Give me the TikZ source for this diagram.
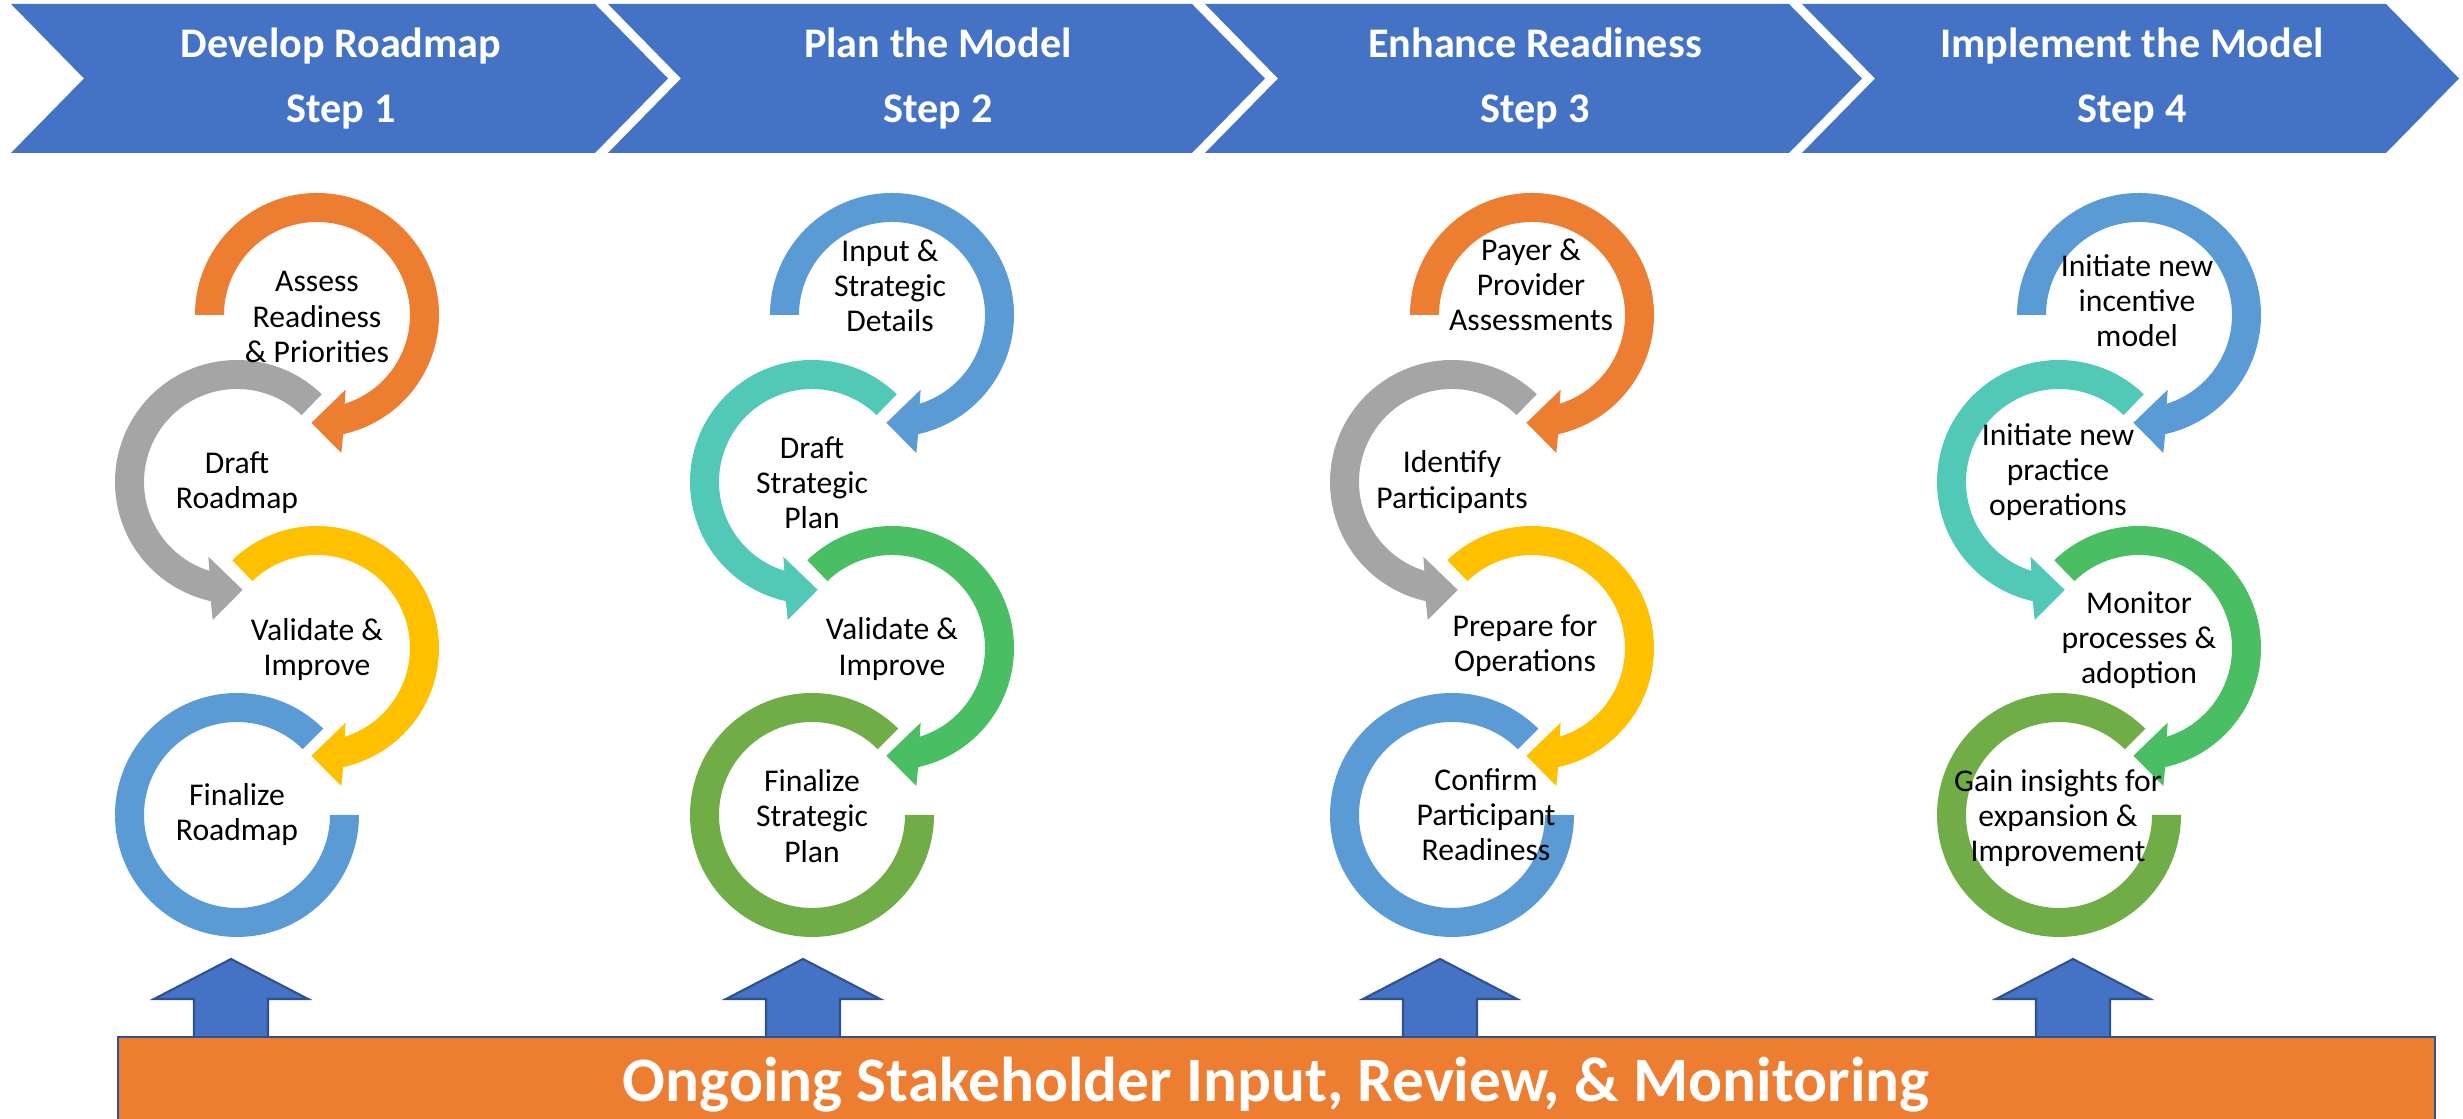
\documentclass[tikz,border=0pt]{standalone}
\usepackage{fontspec}
\setmainfont{Carlito}
\usetikzlibrary{positioning}

\definecolor{chevblue}{HTML}{4472C4}
\definecolor{edgeblue}{HTML}{2F528F}
\definecolor{ringorange}{HTML}{ED7D31}
\definecolor{ringgray}{HTML}{A5A5A5}
\definecolor{ringyellow}{HTML}{FFC000}
\definecolor{ringblue}{HTML}{5B9BD5}
\definecolor{ringteal}{HTML}{52C8B6}
\definecolor{ringgreen}{HTML}{49BE63}
\definecolor{ringolive}{HTML}{70AD47}

\tikzset{
  chevron/.style={fill=chevblue},
  steptext/.style={text=white, font=\fontsize{12}{18.5}\selectfont\bfseries, align=center},
  ringtext/.style={text=black, font=\fontsize{9}{10}\selectfont, align=center, inner sep=0pt},
  uparrow/.style={fill=chevblue, draw=edgeblue, line width=0.6pt},
  bartext/.style={text=white, font=\fontsize{18}{21}\selectfont\bfseries, anchor=base},
}

% ring with arrow head: centre, colour, start angle, mirror
\newcommand{\ringarrow}[4]{%
  \fill[#2, shift={#1}, xscale=#4] (#3:122) arc[start angle=#3, end angle=-77.6, radius=122]
    -- (-80:140) -- (-93:108) -- (-69:80) -- (-72.7:93)
    arc[start angle=-72.7, end angle=#3, radius=93] -- cycle;
}
% last ring, no head
\newcommand{\ringend}[2]{%
  \fill[#2, shift={#1}] (45:122) arc[start angle=45, end angle=360, radius=122]
    -- (0:93) arc[start angle=360, end angle=45, radius=93] -- cycle;
}

\begin{document}
\begin{tikzpicture}[x=0.01cm, y=0.01cm]
  \useasboundingbox (0,0) rectangle (2463,1119);
  \clip (0,0) rectangle (2463,1119);

  % steps
  \foreach \k/\titulo/\passo in {0/Develop Roadmap/1, 1/Plan the Model/2, 2/Enhance Readiness/3, 3/Implement the Model/4}{
    \pgfmathsetmacro{\L}{11+597*\k}
    \fill[chevron] (\L,1115) -- ++(584,0) -- ++(73,-74.5) -- ++(-73,-74.5) -- ++(-584,0) -- ++(73,74.5) -- cycle;
    \node[steptext] (step\passo) at (\L+330,1040.5) {\titulo\\Step \passo};
  }

  % rings
  \foreach \c/\cx/\ca/\cb/\cc/\cd in {1/317/ringorange/ringgray/ringyellow/ringblue,
      2/892/ringblue/ringteal/ringgreen/ringolive,
      3/1532/ringorange/ringgray/ringyellow/ringblue,
      4/2139/ringblue/ringteal/ringgreen/ringolive}{
    \ringarrow{(\cx,804)}{\ca}{180}{1}
    \ringarrow{(\cx-80,637)}{\cb}{134}{-1}
    \ringarrow{(\cx,471)}{\cc}{134}{1}
    \ringend{(\cx-80,304)}{\cd}
  }

  % step 1
  \node[ringtext] (assess) at (317,802) {Assess\\Readiness\\\& Priorities};
  \node[ringtext] (draftroad) at (237,636) {Draft\\Roadmap};
  \node[ringtext] (validate1) at (317,469.5) {Validate \&\\Improve};
  \node[ringtext] (finalroad) at (237,304.5) {Finalize\\Roadmap};
  % step 2
  \node[ringtext] (input) at (890,833) {Input \&\\Strategic\\Details};
  \node[ringtext] (draftplan) at (812,636) {Draft\\Strategic\\Plan};
  \node[ringtext] (validate2) at (892,470) {Validate \&\\Improve};
  \node[ringtext] (finalplan) at (812,303) {Finalize\\Strategic\\Plan};
  % step 3
  \node[ringtext] (payer) at (1531,834) {Payer \&\\Provider\\Assessments};
  \node[ringtext] (identify) at (1452,637) {Identify\\Participants};
  \node[ringtext] (prepare) at (1525,473) {Prepare for\\Operations};
  \node[ringtext] (confirm) at (1486,304) {Confirm\\Participant\\Readiness};
  % step 4
  \node[ringtext] (incentive) at (2137,818) {Initiate new\\incentive\\model};
  \node[ringtext] (practice) at (2058,647) {Initiate new\\practice\\operations};
  \node[ringtext] (monitor) at (2139,479) {Monitor\\processes \&\\adoption};
  \node[ringtext] (insights) at (2058,301) {Gain insights for\\expansion \&\\Improvement};

  % stakeholder bar
  \foreach \ax in {231,803,1440,2073}{
    \draw[uparrow] (\ax-37,82) -- (\ax-37,120) -- (\ax-77,120) -- (\ax,160) -- (\ax+77,120) -- (\ax+37,120) -- (\ax+37,82);
  }
  \draw[fill=ringorange, draw=edgeblue, line width=0.6pt] (118,-30) rectangle (2435,82);
  \node[bartext] (stakeholder) at (1276,17) {Ongoing Stakeholder Input, Review, \& Monitoring};
\end{tikzpicture}
\end{document}
